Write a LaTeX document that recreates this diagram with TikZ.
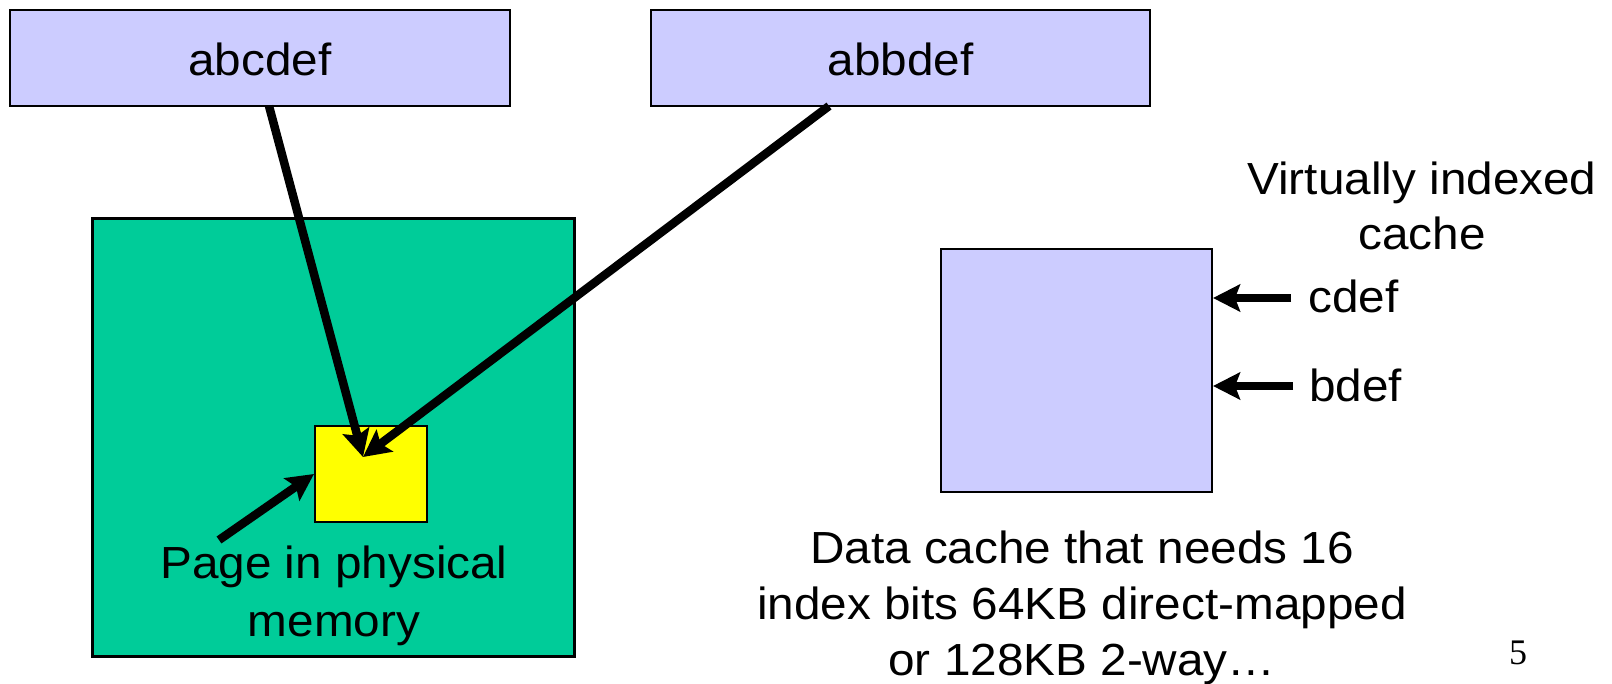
\documentclass[tikz,border=0pt]{standalone}
\usepackage{fontspec}
\setmainfont{Liberation Sans}[FakeStretch=1.06]
\newfontfamily\numfont{Liberation Serif}
\usetikzlibrary{arrows.meta}
\definecolor{lav}{HTML}{CCCCFF}
\definecolor{grn}{HTML}{00CC99}
\definecolor{yel}{HTML}{FFFF00}
\tikzset{
  vbox/.style={draw=black, line width=2pt, fill=lav, inner sep=0pt},
  arr/.style={line width=8.5pt, -{Stealth[length=27pt,width=27pt,inset=5pt]}},
  lbl/.style={inner sep=0pt, anchor=base, font=\fontsize{45}{54}\selectfont},
}
\begin{document}
\begin{tikzpicture}[x=1pt,y=-1pt]
\useasboundingbox (0,0) rectangle (1612,684);
% top boxes
\node[vbox, minimum width=500pt, minimum height=96pt] (v1) at (260,58) {};
\node[vbox, minimum width=499pt, minimum height=96pt] (v2) at (900.5,58) {};
\node[lbl] (t1) at (260,76) {abcdef};
\node[lbl] (t2) at (900.5,76) {abbdef};
% physical memory
\node[draw=black, line width=3pt, fill=grn, minimum width=482pt, minimum height=437pt, inner sep=0pt] (mem) at (333,437.5) {};
\node[draw=black, line width=2pt, fill=yel, minimum width=112pt, minimum height=96pt, inner sep=0pt] (page) at (371,474) {};
\node[lbl] (p1) at (334,578) {Page in physical};
\node[lbl] (p2) at (334,636) {memory};
% cache
\node[vbox, minimum width=271pt, minimum height=243pt] (cache) at (1076.5,370.5) {};
\node[lbl] (vi1) at (1422,195) {Virtually indexed};
\node[lbl] (vi2) at (1422,250) {cache};
\node[lbl, anchor=base west] (cd) at (1308,313) {cdef};
\node[lbl, anchor=base west] (bd) at (1309,402) {bdef};
\node[lbl] (d1) at (1082,563) {Data cache that needs 16};
\node[lbl] (d2) at (1082,619) {index bits 64KB direct-mapped};
\node[lbl] (d3) at (1082,675) {or 128KB 2-way…};
\node[lbl, font=\numfont\fontsize{36}{40}\selectfont] (num) at (1518,664) {5};
% connectors
\coordinate (s1) at (269,106);
\coordinate (s2) at (829,106);
\coordinate (tip) at (363,457);
\coordinate (s3) at (219,540);
\coordinate (c1) at (1291,298);
\coordinate (c2) at (1293,386);
\draw[arr] (s1) -- (tip);
\draw[arr] (s2) -- (tip);
\draw[arr] (s3) -- (page.west);
\draw[arr] (c1) -- (cache.east |- c1);
\draw[arr] (c2) -- (cache.east |- c2);
\end{tikzpicture}
\end{document}
